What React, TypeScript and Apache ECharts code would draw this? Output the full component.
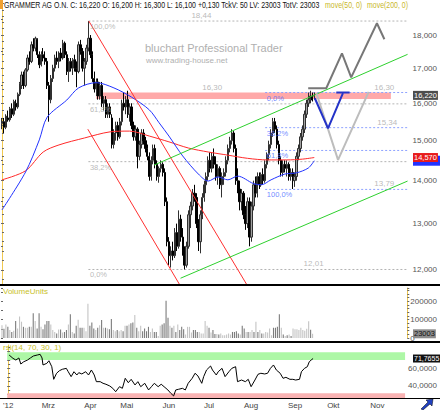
import { useEffect, useRef } from "react";
import * as echarts from "echarts";

const FONT = "'Liberation Sans', Arial, sans-serif";

// ---------------- data ----------------
const firstDay = "2012-02-01";
const holidays = ["2012-04-06", "2012-04-09", "2012-05-01"];
const slotCount = 208;
const monthNames: Record<string, string> = {
  "02": "'12", "03": "Mrz", "04": "Apr", "05": "Mai", "06": "Jun",
  "07": "Jul", "08": "Aug", "09": "Sep", "10": "Okt", "11": "Nov", "12": "Dez",
};

// [open, high, low, close]
const ohlc: number[][] = [
  [15.45,15.6,15.3,15.5],[15.5,15.6,15.2,15.35],[15.35,15.7,15.3,15.65],[15.6,15.8,15.5,15.55],[15.55,15.9,15.5,15.85],
  [15.85,16.0,15.6,15.7],[15.7,16.1,15.65,16.05],[16.0,16.1,15.8,15.9],[15.9,16.3,15.85,16.25],[16.25,16.6,16.2,16.55],
  [16.5,16.9,16.4,16.8],[16.8,16.9,16.4,16.5],[16.5,17.0,16.45,16.95],[16.95,17.4,16.9,17.3],[17.3,17.5,17.1,17.2],
  [17.2,17.8,17.15,17.7],[17.7,17.9,17.5,17.6],[17.6,17.95,17.5,17.9],[17.85,17.9,17.3,17.4],[17.4,17.5,17.0,17.1],
  [17.1,17.5,17.05,17.4],[17.4,17.6,17.2,17.3],[17.3,17.5,17.1,17.2],[17.2,17.3,16.4,16.5],[16.5,16.6,15.5,16.1],
  [16.1,16.8,16.0,16.7],[16.7,17.1,16.6,17.0],[17.0,17.4,16.9,17.3],[17.3,17.5,17.1,17.2],[17.2,17.5,17.0,17.45],
  [17.45,17.6,17.2,17.3],[17.3,17.85,17.25,17.75],[17.75,17.8,17.3,17.4],[17.4,17.5,16.8,16.9],[16.9,17.3,16.6,17.2],
  [17.2,17.3,16.9,17.0],[17.0,17.3,16.8,17.25],[17.25,17.4,16.9,17.0],[17.0,17.2,16.45,16.9],[16.9,17.8,16.85,17.7],
  [17.7,17.85,17.4,17.5],[17.5,17.6,16.9,17.0],[17.0,17.3,16.5,17.2],[17.2,17.7,17.1,17.6],[17.6,18.44,17.5,17.9],
  [17.9,18.0,17.3,17.4],[17.4,17.5,16.6,16.7],[16.7,16.9,16.3,16.4],[16.4,16.7,16.2,16.6],[16.6,16.7,16.1,16.2],
  [16.2,16.6,16.1,16.5],[16.5,16.6,15.9,16.0],[16.0,16.2,15.8,16.1],[16.1,16.2,15.6,15.7],[15.7,16.0,15.6,15.9],
  [15.9,16.0,15.6,15.7],[15.6,15.7,14.8,14.9],[14.9,15.3,14.8,15.2],[15.2,15.5,15.0,15.4],[15.4,15.5,15.0,15.1],
  [15.1,15.6,15.05,15.5],[15.5,16.1,15.4,16.0],[16.0,16.3,15.8,15.9],[15.9,16.2,15.7,16.1],[16.1,16.35,15.6,15.7],
  [15.7,16.0,15.5,15.9],[15.9,16.0,15.3,15.4],[15.4,15.5,15.0,15.1],[15.1,15.4,15.0,15.3],[15.3,15.35,14.3,14.6],
  [14.6,15.0,14.5,14.9],[14.9,15.3,14.8,15.2],[15.2,15.3,14.9,15.0],[15.0,15.1,14.7,14.8],[14.8,14.9,14.5,14.6],
  [14.6,14.7,14.0,14.1],[14.1,14.6,14.0,14.5],[14.5,14.9,14.4,14.8],[14.8,14.9,14.3,14.4],[14.4,14.5,14.0,14.1],
  [14.1,14.35,13.95,14.3],[14.3,14.5,14.2,14.4],[14.4,14.45,14.1,14.2],[14.2,14.3,13.4,13.5],[13.5,13.6,12.5,12.6],
  [12.6,12.7,12.1,12.3],[12.3,12.5,12.05,12.4],[12.4,12.6,12.2,12.3],[12.3,12.9,12.25,12.8],[12.8,13.0,12.4,12.5],
  [12.5,13.3,12.45,13.1],[13.1,13.2,12.6,12.7],[12.7,12.9,12.3,12.4],[12.4,12.5,12.01,12.1],[12.1,12.6,12.05,12.5],
  [12.5,13.3,12.45,13.2],[13.2,13.5,12.9,13.4],[13.4,13.8,13.3,13.7],[13.7,13.9,13.5,13.6],[13.6,13.7,12.9,13.0],
  [13.0,13.1,12.4,12.6],[12.6,13.3,12.35,13.2],[13.2,13.7,13.1,13.6],[13.6,14.0,13.5,13.9],[13.9,14.2,13.7,14.1],
  [14.1,14.6,14.0,14.5],[14.5,14.7,14.2,14.3],[14.3,14.7,14.2,14.6],[14.6,14.8,14.3,14.4],[14.4,14.6,14.0,14.1],
  [14.1,14.4,13.9,14.3],[14.3,14.35,13.8,13.9],[13.9,14.2,13.6,14.1],[14.1,14.3,13.9,14.2],[14.2,14.6,14.1,14.5],
  [14.5,14.9,14.4,14.8],[14.8,15.1,14.7,15.0],[15.0,15.3,14.9,15.2],[15.2,15.25,14.7,14.8],[14.8,14.9,13.9,14.0],
  [14.0,14.3,13.7,13.8],[13.8,14.0,13.3,13.5],[13.5,13.8,13.3,13.7],[13.7,13.75,13.1,13.2],[13.2,13.4,12.86,13.0],
  [13.0,13.6,12.9,13.5],[13.5,13.6,12.5,12.7],[12.7,13.5,12.6,13.4],[13.4,14.0,13.3,13.9],[13.9,14.1,13.6,13.7],
  [13.7,14.2,13.6,14.1],[14.1,14.2,13.8,13.9],[13.9,14.2,13.85,14.15],[14.15,14.3,13.9,14.0],[14.0,14.5,13.95,14.4],
  [14.4,14.7,14.3,14.65],[14.65,15.0,14.5,14.9],[14.9,15.3,14.8,15.2],[15.2,15.6,15.1,15.5],[15.5,15.6,15.2,15.3],
  [15.3,15.4,14.8,14.9],[14.9,15.0,14.4,14.5],[14.5,14.6,14.1,14.2],[14.2,14.5,14.1,14.4],[14.4,14.5,14.2,14.3],
  [14.3,14.5,14.1,14.4],[14.4,14.45,14.0,14.1],[14.1,14.3,14.0,14.2],[14.2,14.3,13.8,14.0],[14.0,14.2,13.85,14.1],
  [14.1,14.7,14.0,14.6],[14.6,14.9,14.5,14.8],[14.8,15.2,14.7,15.1],[15.1,15.4,15.0,15.3],[15.3,15.8,15.2,15.7],
  [15.7,16.1,15.6,16.0],[16.0,16.3,15.9,16.1],[16.1,16.35,16.0,16.2],[16.2,16.3,16.05,16.09],[16.2,16.3,16.1,16.22],
];

// volume in thousands of units
const volumeK: number[] = [
  70,50,74,61,43,33,39,93,52,117,89,61,56,56,61,61,135,93,52,135,61,48,74,93,93,74,43,33,24,46,
  46,30,33,43,74,130,33,24,67,100,56,56,56,37,187,67,85,52,43,56,70,98,56,56,52,48,104,43,37,43,
  37,43,37,67,67,74,80,85,126,56,37,67,37,52,37,61,33,52,33,33,11,67,74,80,204,111,67,56,67,33,
  74,43,61,48,19,61,61,30,43,43,33,33,24,24,93,67,56,30,43,22,22,19,24,15,15,19,24,19,33,33,
  37,24,19,67,52,33,33,33,43,33,89,33,43,24,24,33,30,52,15,56,56,61,130,56,19,11,15,19,11,52,
  48,48,43,56,43,40,50,91,45,23.003,
];

// moving averages (day index, value)
const ma50Idx = [0,12,19,23,33,39,48,57,66,75,80,85,92,100,105,110,115,120,128,132,137,144,150,156,159];
const ma50Val = [13.31,14.21,15.02,15.62,16.09,16.43,16.58,16.43,16.17,15.82,15.47,15.12,14.61,14.16,13.99,14.09,14.02,14.11,13.93,13.90,14.02,14.16,14.19,14.31,14.49];
const ma200Idx = [0,12,21,29,42,55,65,75,85,95,105,115,125,135,145,153,159];
const ma200Val = [14.02,14.24,14.71,14.89,15.07,15.23,15.25,15.12,14.97,14.81,14.71,14.63,14.55,14.51,14.51,14.53,14.57];

// RSI(14) (day index, value)
const rsiIdx = [0.5,2.5,4,5.6,6.6,8.1,10.1,11.6,13.2,15.2,16.7,17.7,18.2,20.2,21.3,22.8,23.8,25.3,26.8,28.3,
  30.4,31.4,32.9,34.4,35.9,36.9,38.5,40.5,42,43.5,45,46.1,48.1,49.6,51.1,53.1,54.7,56.2,58.2,59.7,
  61.2,62.8,64.3,66.3,67.8,69.3,71.4,73.4,74.9,76.4,78.4,80,81.5,83.5,85,86.5,87.6,89.1,91.1,92.6,
  94.1,96.2,97.7,99.2,101.2,102.2,103.7,105.8,106.8,108.8,109.8,111.8,113.4,115.4,116.9,118.9,119.9,122,124,125.5,
  127,129,130.6,132.1,134.1,135.6,137.1,138.7,140.2,142.2,143.7,145.2,147.3,148.8,150.3,152.3,153.3,154.9,156.4,157.4,
  158.4,159.4];
const rsiVal = [75.8,72,70,72.4,65.4,68,70,72.4,74.7,75.8,76.6,72.4,64.3,66.2,69.2,62.3,47.7,54.7,57.7,59.3,
  60.4,56.5,50.8,56.5,52.7,55.4,53.9,56.5,52.7,58.5,52.7,45,45,43.1,42,40,37.3,33.4,39.2,37.3,
  48.9,43.8,47.7,41.2,45,39.2,43.1,35.4,39.2,43.1,39.2,42,39.2,35.4,31.6,28.5,35.4,36.2,37.3,35.4,
  43.1,48.9,54.7,51.6,43.1,50.8,58.5,63.1,58.5,52.7,56.5,60.4,50.8,56.5,60.4,62.3,45,46.9,45,47.7,
  39.2,46.9,53.5,54.7,53.9,54.7,60.4,64.3,58.5,54.7,48.9,50,47.7,47.7,46.9,47.7,56.5,60.4,62.3,68,
  70,71.7655];

// Fibonacci retracements
const fibRatios = [1, 0.618, 0.382, 0];
const grayFib = { high: 18.44, low: 12.01, from: 44, to: 206.5 };
const blueFib = { high: 16.30, low: 13.79, from: 134, to: 206.5 };

// resistance zone
const zone = { top: 16.30, bottom: 16.12, from: 48, to: 198 };

// drawn lines [day index, price]
const redLineA = [[43.7, 15.30], [90.3, 11.71]];
const redLineB = [[44.2, 18.44], [124.5, 11.71]];
const greenUpper = [[77.4, 14.38], [206.5, 17.41]];
const greenLower = [[90.9, 11.83], [206.5, 13.99]];
const projZigzag = [[155.9, 16.42], [165.1, 16.42], [173.1, 17.44], [177.8, 16.73], [190.9, 18.37], [194.7, 17.87]];
const projBlueV = [[159.3, 16.14], [166.0, 15.32], [173.6, 16.28]];
const projBlueFlat = [[170.2, 16.30], [177.0, 16.30]];
const projGrayV = [[160.1, 16.28], [171.1, 14.51], [186.7, 16.32]];

// price labels above lines [day index, price, text]
const priceNotes: [number, number, string][] = [
  [96.7, 18.44, "18,44"], [102.2, 16.30, "16,30"], [189.8, 16.30, "16,30"],
  [191.3, 15.34, "15,34"], [189.8, 13.79, "13,79"], [153.8, 12.01, "12,01"],
];

const priceTicks = [12, 13, 14, 15, 16, 17, 18];
const rsiTicks = [40, 60];
const lastClose = 16.22;
const lastMa200 = 14.57;
const lastMa50 = 14.49;
const lastVolume = 23003;
const lastRsi = 71.7655;

// ---------------- helpers ----------------
const de = (v: number, d: number) => v.toFixed(d).replace(".", ",");

function tradingDays(): string[] {
  const out: string[] = [];
  const d = new Date(firstDay + "T00:00:00Z");
  while (out.length < slotCount) {
    const wd = d.getUTCDay();
    const s = d.toISOString().slice(0, 10);
    if (wd !== 0 && wd !== 6 && !holidays.includes(s)) out.push(s);
    d.setUTCDate(d.getUTCDate() + 1);
  }
  return out;
}

function stepValues(a: number, b: number, s: number): number[] {
  const r: number[] = [];
  for (let v = a; v <= b + 1e-9; v += s) r.push(Math.round(v * 1000) / 1000);
  return r;
}

export default function App() {
  const ref = useRef<HTMLDivElement>(null);

  useEffect(() => {
    if (!ref.current) return;
    const chart = echarts.init(ref.current, undefined, { renderer: "svg", width: 440, height: 410 });
    const dates = tradingDays();

    const candleData = ohlc.map(([o, h, l, c]) => [o, c, l, h]);
    const volData = volumeK.map((v, i) => ({
      value: Math.round(v * 1000),
      itemStyle: { color: ohlc[i][3] >= ohlc[i][0] ? "#c4c4c4" : "#7c7c7c" },
    }));
    const ma50 = ma50Idx.map((x, i) => [x, ma50Val[i]]);
    const ma200 = ma200Idx.map((x, i) => [x, ma200Val[i]]);
    const rsi = rsiIdx.map((x, i) => [x, rsiVal[i]]);

    const grayLevels = fibRatios.map((r) => grayFib.low + r * (grayFib.high - grayFib.low));
    const blueLevels = fibRatios.map((r) => blueFib.high - (1 - r) * (blueFib.high - blueFib.low));
    const pct = (r: number) => de(r * 100, 1) + "%";
    const bluePct = fibRatios.map((r) => pct(1 - r));

    const seg = (data: number[][], color: string, width = 1, type: any = "solid", z = 3, extra: any = {}) => ({
      type: "line", xAxisIndex: 1, yAxisIndex: 0, data, symbol: "none", silent: true, z,
      lineStyle: { color, width, type }, animation: false, ...extra,
    });

    const labelSeries = (items: [number, number, string][], color: string, below: boolean, size = 7.5) => ({
      type: "scatter", xAxisIndex: 1, yAxisIndex: 0, symbolSize: 1, silent: true, z: 6,
      itemStyle: { color: "rgba(0,0,0,0)" },
      data: items.map(([x, y, t]) => ({ value: [x, y], name: t })),
      label: {
        show: true, formatter: (p: any) => p.name, color, fontSize: size, fontFamily: FONT,
        position: below ? [1, 2] : [0, -1], align: "left", verticalAlign: below ? "top" : "bottom",
      },
      labelLayout: { hideOverlap: false },
    });

    const catAxis = (gridIndex: number, labels: boolean) => ({
      type: "category", gridIndex, data: dates, boundaryGap: true,
      axisLine: { show: labels, lineStyle: { color: "#000", width: 1 } },
      axisTick: { show: false }, splitLine: { show: false },
      axisLabel: labels
        ? {
            show: true, fontSize: 8, fontFamily: FONT, color: "#444", margin: 3,
            interval: (i: number, v: string) => i === 0 || v.slice(5, 7) !== dates[i - 1].slice(5, 7),
            formatter: (v: string) => monthNames[v.slice(5, 7)],
          }
        : { show: false },
    });
    const valAxis = (gridIndex: number) => ({ type: "value", gridIndex, min: -0.5, max: slotCount - 0.5, show: false });

    const axisYellow = { show: true, lineStyle: { color: "#f0c850", width: 1 } };
    const labelBase = { fontSize: 8, fontFamily: FONT, color: "#555", margin: 3 };

    const option: any = {
      animation: false,
      backgroundColor: "#fff",
      grid: [
        { left: 1, right: 28, top: 2, height: 282 },
        { left: 1, right: 28, top: 288, height: 50 },
        { left: 1, right: 28, top: 345, height: 53 },
      ],
      xAxis: [catAxis(0, false), valAxis(0), catAxis(1, false), catAxis(2, true), valAxis(2)],
      yAxis: [
        {
          type: "log", logBase: 10, gridIndex: 0, position: "right", min: 11.713, max: 19.056,
          axisLine: axisYellow, splitLine: { show: false },
          axisTick: { show: true, customValues: stepValues(11.8, 19.0, 0.2), length: 2, lineStyle: { color: "#666" } },
          axisLabel: { ...labelBase, customValues: priceTicks, formatter: (v: number) => de(v, 3) },
        },
        {
          type: "log", logBase: 10, gridIndex: 0, position: "left", min: 11.713, max: 19.056,
          axisLine: { show: false }, splitLine: { show: false }, axisLabel: { show: false },
          axisTick: { show: true, inside: true, customValues: stepValues(12, 19, 0.5), length: 2, lineStyle: { color: "#666" } },
        },
        {
          type: "value", gridIndex: 1, position: "right", min: 0, max: 273000, interval: 100000,
          axisLine: axisYellow, splitLine: { show: false },
          axisTick: { show: true, length: 2, lineStyle: { color: "#666" } },
          minorTick: { show: true, splitNumber: 5, length: 2, lineStyle: { color: "#666" } },
          axisLabel: { ...labelBase, showMaxLabel: false, formatter: (v: number) => String(v) },
        },
        {
          type: "value", gridIndex: 1, position: "left", min: 0, max: 273000, interval: 50000,
          axisLine: { show: false }, splitLine: { show: false }, axisLabel: { show: false },
          axisTick: { show: true, inside: true, length: 2, lineStyle: { color: "#666" } },
        },
        {
          type: "value", gridIndex: 2, position: "right", min: 26.1, max: 87.4,
          axisLine: axisYellow, splitLine: { show: false },
          axisTick: { show: true, customValues: stepValues(30, 85, 5), length: 2, lineStyle: { color: "#666" } },
          axisLabel: { ...labelBase, customValues: rsiTicks, formatter: (v: number) => de(v, 4) },
        },
        {
          type: "value", gridIndex: 2, position: "left", min: 26.1, max: 87.4,
          axisLine: { show: false }, splitLine: { show: false }, axisLabel: { show: false },
          axisTick: { show: true, inside: true, customValues: stepValues(30, 85, 10), length: 2, lineStyle: { color: "#666" } },
        },
      ],
      series: [
        // gray fib levels + resistance zone
        ...grayLevels.map((lv, k) =>
          seg([[grayFib.from, lv], [grayFib.to, lv]], "#b4b4b4", 1, [2, 2], 1,
            k === 0
              ? {
                  markArea: {
                    silent: true, itemStyle: { color: "#ffa9a9" },
                    data: [[{ coord: [zone.from, zone.top] }, { coord: [zone.to, zone.bottom] }]],
                  },
                }
              : {})
        ),
        ...blueLevels.map((lv) => seg([[blueFib.from, lv], [blueFib.to, lv]], "#8ea2ff", 1, [2, 2], 1)),
        {
          type: "candlestick", xAxisIndex: 0, yAxisIndex: 0, data: candleData, barWidth: 1.8, z: 2,
          itemStyle: { color: "#a0a0a0", color0: "#000", borderColor: "#303030", borderColor0: "#000", borderWidth: 1 },
        },
        seg(ma200, "#ff2a2a", 1, "solid", 3, { smooth: 0.3 }),
        seg(ma50, "#2233ff", 1, "solid", 3, { smooth: 0.3 }),
        seg(redLineA, "#ff3030"),
        seg(redLineB, "#ff3030"),
        seg(greenUpper, "#2ed12e"),
        seg(greenLower, "#2ed12e"),
        seg(projGrayV, "#bdbdbd", 2),
        seg(projZigzag, "#777777", 2),
        seg(projBlueV, "#2433c8", 2),
        seg(projBlueFlat, "#2433c8", 2),
        labelSeries(grayLevels.map((lv, k) => [grayFib.from + 0.5, lv, pct(fibRatios[k])] as [number, number, string]), "#a8a8a8", true),
        labelSeries(blueLevels.map((lv, k) => [blueFib.from + 0.6, lv, bluePct[k]] as [number, number, string]), "#4a6cff", true),
        labelSeries(priceNotes, "#a8a8a8", false, 8),
        {
          type: "bar", xAxisIndex: 2, yAxisIndex: 2, data: volData, barWidth: 1.1, silent: true,
        },
        {
          type: "line", xAxisIndex: 4, yAxisIndex: 4, data: rsi, symbol: "none", silent: true, z: 3,
          lineStyle: { color: "#000", width: 1 },
          markArea: {
            silent: true,
            data: [
              [{ yAxis: 79, itemStyle: { color: "#adf7a6" } }, { yAxis: 70 }],
              [{ yAxis: 31.5, itemStyle: { color: "#f9b3b3" } }, { yAxis: 26.1 }],
            ],
          },
        },
      ],
    };
    chart.setOption(option);

    const yPix = (axis: number, v: number) => chart.convertToPixel({ yAxisIndex: axis } as any, v) as unknown as number;
    const tag = (y: number, text: string, bg: string, fg: string, size = 7.5) => ({
      type: "text", x: 413, y, z: 100,
      style: { text, fill: fg, backgroundColor: bg, padding: [1, 1, 0, 1], font: `${size}px ${FONT}`, verticalAlign: "middle" },
    });

    const header = "GRAMMER AG O.N. C: 16,220 O: 16,200 H: 16,300 L: 16,100 +0,130 TckV: 50 LV: 23003 TotV: 23003";
    const ma50y = yPix(0, lastMa50);
    const graphic: any[] = [
      { type: "rect", shape: { x: 0, y: 0, width: 3, height: 9 }, style: { fill: "#f0a030" }, z: 50 },
      { type: "text", x: 4, y: 1, scaleX: 0.82, z: 50, style: { text: header, fill: "#111", font: `8.5px ${FONT}` } },
      { type: "text", x: 325, y: 1, scaleX: 0.82, z: 50, style: { text: "move(50, 0)", fill: "#c9b82a", font: `8.5px ${FONT}` } },
      { type: "text", x: 367, y: 1, scaleX: 0.82, z: 50, style: { text: "move(200, 0)", fill: "#c9b82a", font: `8.5px ${FONT}` } },
      { type: "text", x: 145, y: 48, z: 0, style: { text: "bluchart Professional Trader", fill: "#b0b0b0", font: `11px ${FONT}`, verticalAlign: "middle" } },
      { type: "text", x: 146, y: 60, z: 0, style: { text: "www.trading-house.net", fill: "#b0b0b0", font: `8px ${FONT}`, verticalAlign: "middle" } },
      { type: "text", x: 3, y: 291, z: 50, style: { text: "VolumeUnits", fill: "#c9c22a", font: `8px ${FONT}`, verticalAlign: "middle" } },
      { type: "text", x: 3, y: 347.5, z: 50, style: { text: "rsi(14, 70, 30, 1)", fill: "#c9c22a", font: `8px ${FONT}`, verticalAlign: "middle" } },
      { type: "line", shape: { x1: 0, y1: 285, x2: 440, y2: 285 }, style: { stroke: "#000", lineWidth: 2 }, z: 60 },
      { type: "line", shape: { x1: 0, y1: 342, x2: 440, y2: 342 }, style: { stroke: "#000", lineWidth: 2 }, z: 60 },
      { type: "line", shape: { x1: 0, y1: 398.5, x2: 440, y2: 398.5 }, style: { stroke: "#000", lineWidth: 1 }, z: 60 },
      { type: "polygon", shape: { points: [[421, 409], [428, 402], [426, 400], [433, 399], [432, 406], [430, 404], [423, 410]] }, style: { fill: "#2040c0", stroke: "#000", lineWidth: 0.5 }, z: 60 },
      { type: "rect", shape: { x: 413, y: ma50y - 5, width: 27, height: 10 }, style: { fill: "#2233ff" }, z: 99 },
      tag(yPix(0, lastMa200), de(lastMa200, 3), "#e81c1c", "#fff"),
      tag(yPix(0, lastClose), de(lastClose, 3), "#4d4d4d", "#fff"),
      tag(yPix(2, lastVolume), String(lastVolume), "#8c8c8c", "#111"),
      tag(yPix(4, lastRsi), de(lastRsi, 4), "#111", "#fff", 7),
    ];
    chart.setOption({ graphic });

    return () => chart.dispose();
  }, []);

  return (
    <div
      ref={ref}
      style={{ position: "absolute", left: 0, top: 0, width: 440, height: 410, background: "#fff" }}
    />
  );
}
